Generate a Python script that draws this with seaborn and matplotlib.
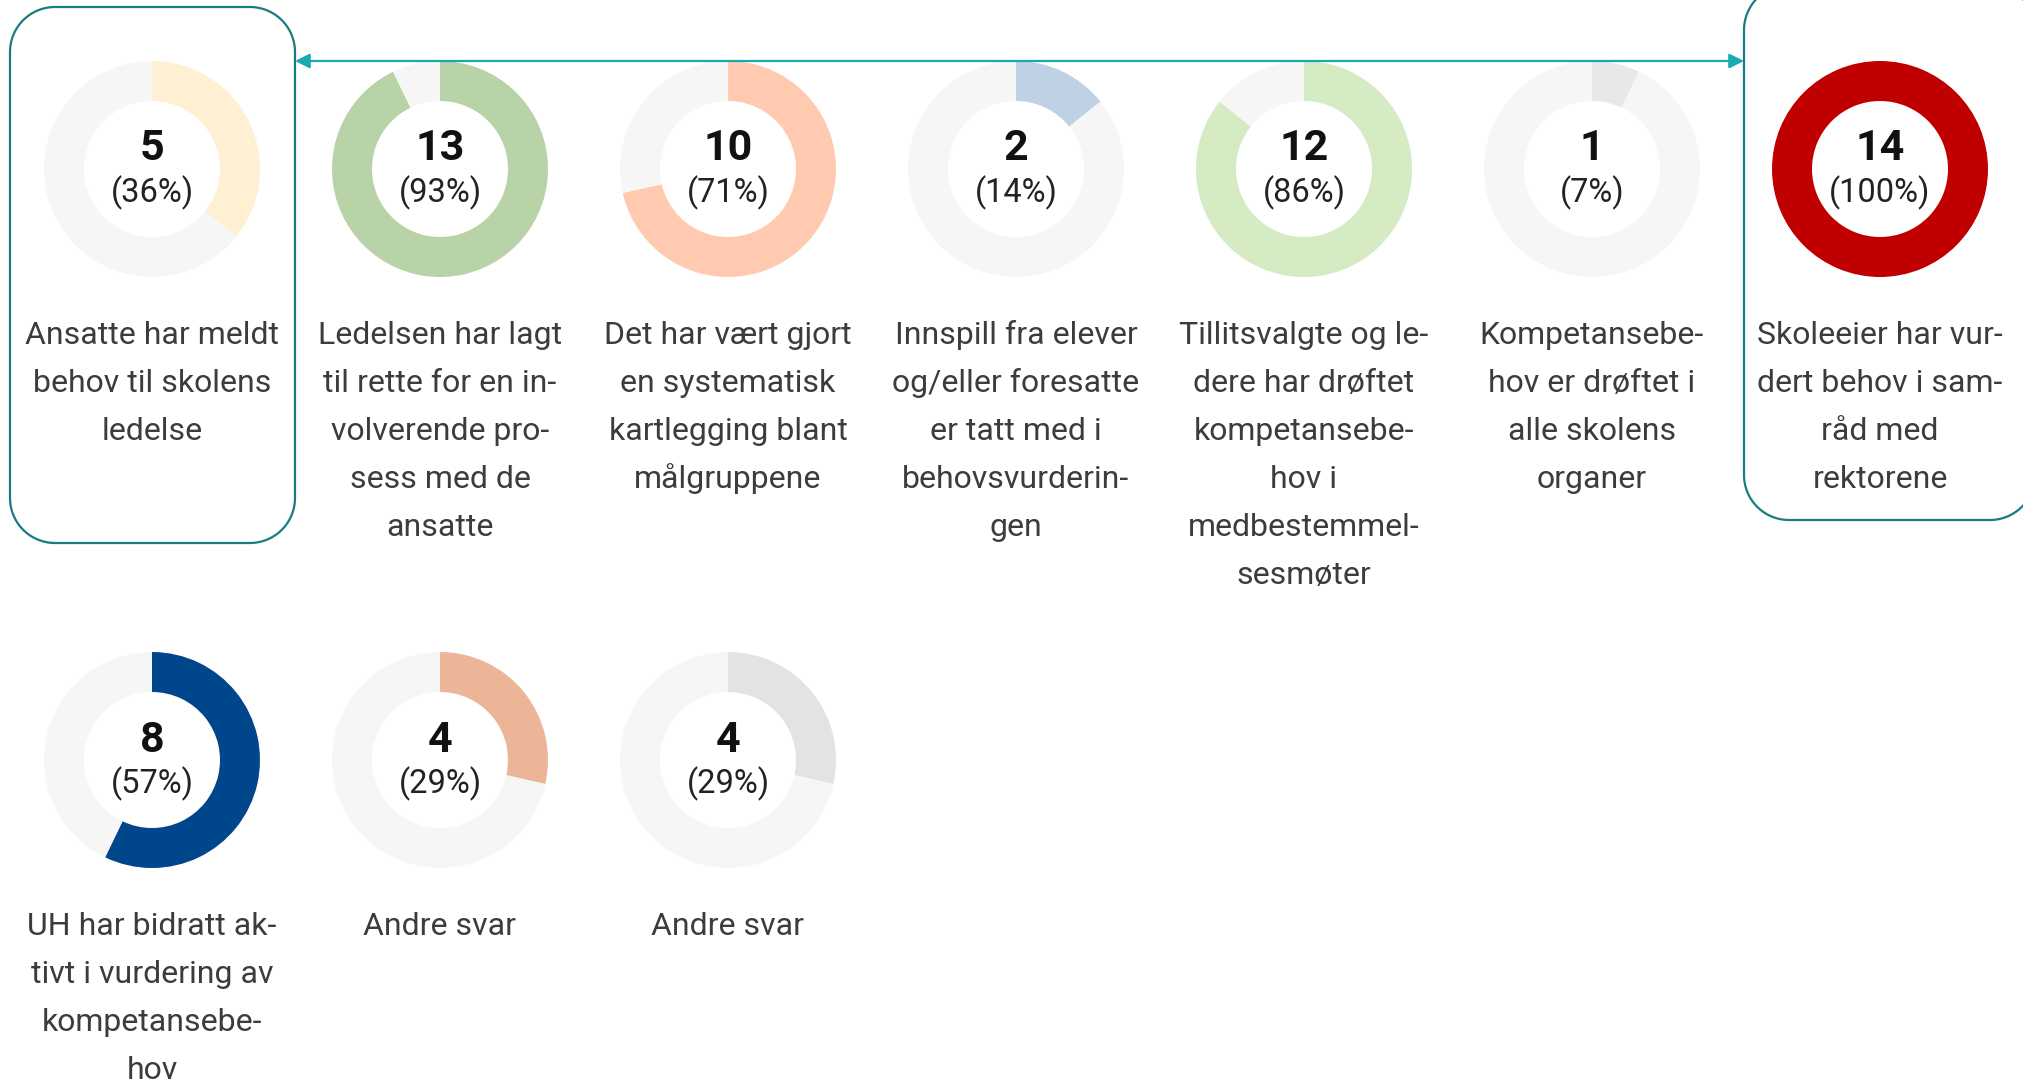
import matplotlib
matplotlib.use("Agg")
import matplotlib.pyplot as plt
from matplotlib.patches import Polygon, FancyArrowPatch
import seaborn as sns
import numpy as np

# Survey answers: number of schools (out of TOTAL) for each statement
TOTAL = 14
counts = [5, 13, 10, 2, 12, 1, 14, 8, 4, 4]
colors = ["#FFF0D4", "#B9D3A8", "#FFCAAF", "#BFD1E4", "#D4EBC3",
          "#E8E8E8", "#C00000", "#00468C", "#EDB598", "#E3E3E3"]
labels = [
    "Ansatte har meldt\nbehov til skolens\nledelse",
    "Ledelsen har lagt\ntil rette for en in-\nvolverende pro-\nsess med de\nansatte",
    "Det har vært gjort\nen systematisk\nkartlegging blant\nmålgruppene",
    "Innspill fra elever\nog/eller foresatte\ner tatt med i\nbehovsvurderin-\ngen",
    "Tillitsvalgte og le-\ndere har drøftet\nkompetansebe-\nhov i\nmedbestemmel-\nsesmøter",
    "Kompetansebe-\nhov er drøftet i\nalle skolens\norganer",
    "Skoleeier har vur-\ndert behov i sam-\nråd med\nrektorene",
    "UH har bidratt ak-\ntivt i vurdering av\nkompetansebe-\nhov",
    "Andre svar",
    "Andre svar",
]
highlighted = [0, 6]

sns.set_theme(style="white")
plt.rcParams["font.family"] = ["Roboto", "DejaVu Sans"]

W, H = 2023, 1081
fig = plt.figure(figsize=(W / 100, H / 100), dpi=100)
ax = fig.add_axes([0, 0, 1, 1])

RING_BG = "#F6F6F6"
R_OUT, R_WIDTH = 108, 40
COL_X0, COL_DX = 152, 288
ROW_Y = [169, 760]          # distance from the top edge
PER_ROW = 7
LINE_H = 48


def top(y):
    """Convert a distance from the top edge into a y coordinate."""
    return H - y


def rounded_outline(x0, y0, w, h, r, n=24):
    """Vertices of a rectangle with rounded corners (straight segments)."""
    x1, y1 = x0 + w, y0 + h
    pts = []
    corners = [(x1 - r, y1 - r, 0), (x0 + r, y1 - r, 90),
               (x0 + r, y0 + r, 180), (x1 - r, y0 + r, 270)]
    for cx, cy, a0 in corners:
        t = np.radians(np.linspace(a0, a0 + 90, n))
        pts.extend(zip(cx + r * np.cos(t), cy + r * np.sin(t)))
    return np.array(pts)


for i, (n, c, lab) in enumerate(zip(counts, colors, labels)):
    row, col = divmod(i, PER_ROW)
    cx = COL_X0 + COL_DX * col
    cy = ROW_Y[row]
    ax.pie([n, TOTAL - n], colors=[c, RING_BG], startangle=90,
           counterclock=False, radius=R_OUT, center=(cx, top(cy)),
           wedgeprops=dict(width=R_WIDTH, linewidth=0))
    pct = round(100 * n / TOTAL)
    ax.text(cx, top(cy - 8.5), f"{n}", ha="center", va="baseline",
            fontsize=31, fontweight="bold", color="#111111")
    ax.text(cx, top(cy + 33.5), f"({pct}%)", ha="center", va="baseline",
            fontsize=23.5, color="#222222")
    for k, line in enumerate(lab.split("\n")):
        ax.text(cx, top(cy + 175 + k * LINE_H), line, ha="center",
                va="baseline", fontsize=23, color="#3C3C3C")

# Rounded frames around the two compared statements
frame_color = "#187C80"
frames = {0: (10, 7, 285, 536), 6: (1744, -15, 291, 535)}
for idx in highlighted:
    x0, y0, w, h = frames[idx]
    ax.add_patch(Polygon(rounded_outline(x0, top(y0 + h), w, h, 45),
                         closed=True, fill=False, edgecolor=frame_color,
                         linewidth=1.6))

# Double-headed connector between the framed statements
ax.add_patch(FancyArrowPatch((295, top(61)), (1744, top(61)),
                             arrowstyle="<|-|>", mutation_scale=22,
                             color="#19A9B3", linewidth=1.6,
                             shrinkA=0, shrinkB=0))

ax.set_xlim(0, W)
ax.set_ylim(0, H)
ax.set_aspect("equal")
ax.axis("off")
fig.savefig("out.png", dpi=100, facecolor="white")
